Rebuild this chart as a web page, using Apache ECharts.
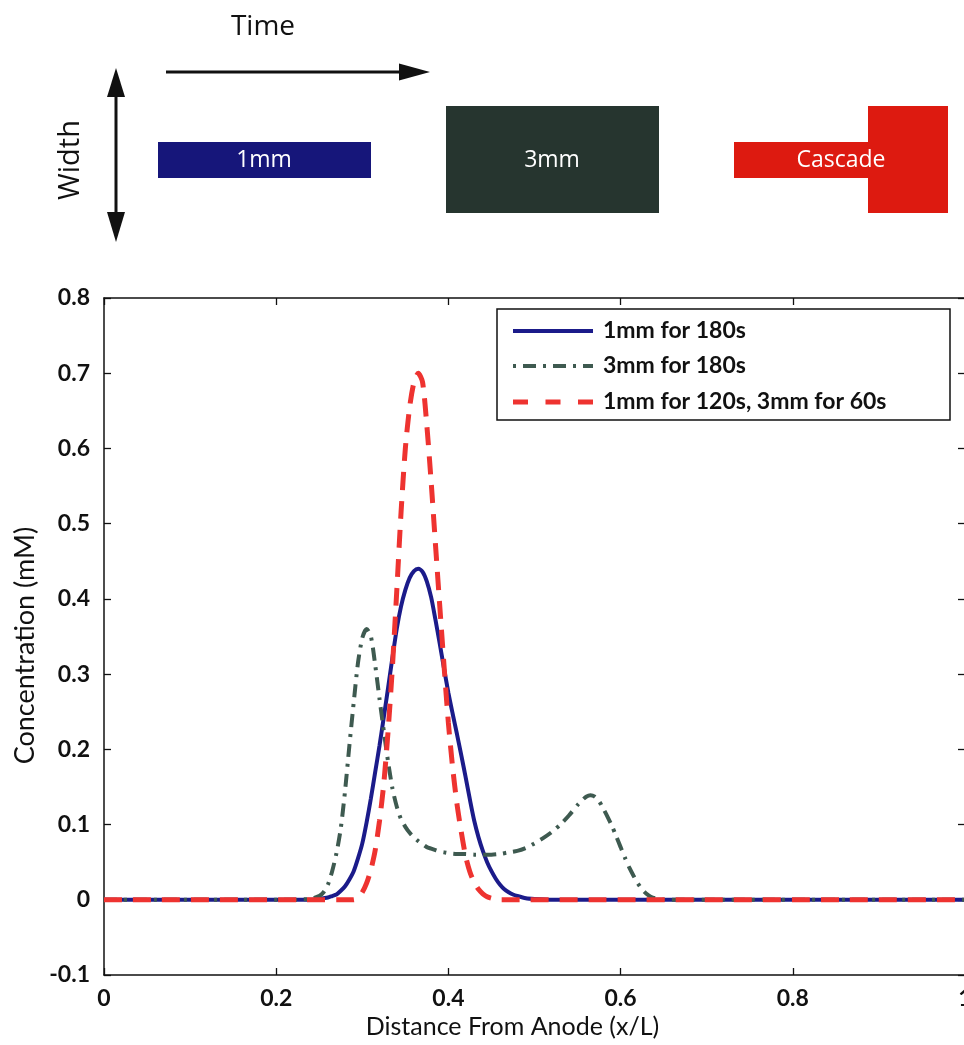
<!DOCTYPE html>
<html>
<head>
<meta charset="utf-8">
<script src="https://cdn.jsdelivr.net/npm/echarts@6/dist/echarts.min.js"></script>
<style>
html,body{margin:0;padding:0;background:#fff;}
#chart{width:964px;height:1045px;}
</style>
</head>
<body>
<div id="chart"></div>
<script>
// ---- data ----
const seriesNames = ['1mm for 180s', '3mm for 180s', '1mm for 120s, 3mm for 60s'];

const blueX = [0, 0.24, 0.245, 0.25, 0.255, 0.26, 0.265, 0.27, 0.275, 0.28, 0.285, 0.29, 0.295, 0.30, 0.305, 0.31, 0.315, 0.32, 0.325, 0.33, 0.335, 0.34, 0.345, 0.35, 0.355, 0.36, 0.365, 0.37, 0.375, 0.38, 0.385, 0.39, 0.395, 0.40, 0.405, 0.41, 0.415, 0.42, 0.425, 0.43, 0.435, 0.44, 0.445, 0.45, 0.455, 0.46, 0.465, 0.47, 0.475, 0.48, 0.49, 0.50, 0.52, 1];
const blueY = [0, 0, 0.0005, 0.001, 0.002, 0.003, 0.005, 0.007, 0.012, 0.018, 0.027, 0.038, 0.055, 0.075, 0.103, 0.135, 0.170, 0.205, 0.243, 0.282, 0.322, 0.360, 0.390, 0.412, 0.428, 0.437, 0.440, 0.436, 0.423, 0.402, 0.372, 0.340, 0.307, 0.275, 0.247, 0.220, 0.192, 0.163, 0.133, 0.105, 0.083, 0.065, 0.050, 0.038, 0.028, 0.020, 0.014, 0.010, 0.007, 0.005, 0.002, 0.001, 0, 0];

const greenX = [0, 0.22, 0.23, 0.24, 0.245, 0.25, 0.255, 0.26, 0.265, 0.27, 0.275, 0.28, 0.285, 0.29, 0.295, 0.30, 0.305, 0.31, 0.315, 0.32, 0.325, 0.33, 0.335, 0.34, 0.345, 0.35, 0.355, 0.36, 0.365, 0.37, 0.375, 0.38, 0.385, 0.39, 0.395, 0.40, 0.41, 0.42, 0.43, 0.44, 0.45, 0.46, 0.47, 0.48, 0.49, 0.50, 0.51, 0.52, 0.53, 0.54, 0.55, 0.555, 0.56, 0.565, 0.57, 0.575, 0.58, 0.585, 0.59, 0.595, 0.60, 0.605, 0.61, 0.615, 0.62, 0.625, 0.63, 0.635, 0.64, 0.65, 1];
const greenY = [0, 0, 0.0005, 0.001, 0.003, 0.005, 0.010, 0.020, 0.038, 0.062, 0.095, 0.145, 0.205, 0.262, 0.315, 0.348, 0.360, 0.350, 0.312, 0.267, 0.224, 0.183, 0.148, 0.124, 0.107, 0.097, 0.089, 0.083, 0.078, 0.074, 0.070, 0.068, 0.066, 0.064, 0.063, 0.062, 0.061, 0.061, 0.060, 0.060, 0.060, 0.061, 0.063, 0.065, 0.069, 0.075, 0.082, 0.090, 0.100, 0.112, 0.126, 0.132, 0.137, 0.139, 0.137, 0.131, 0.121, 0.110, 0.098, 0.084, 0.070, 0.056, 0.043, 0.032, 0.022, 0.014, 0.008, 0.004, 0.002, 0, 0];

const redX = [0, 0.29, 0.295, 0.30, 0.305, 0.31, 0.315, 0.32, 0.325, 0.33, 0.335, 0.34, 0.345, 0.35, 0.355, 0.36, 0.365, 0.37, 0.375, 0.38, 0.385, 0.39, 0.395, 0.40, 0.405, 0.41, 0.415, 0.42, 0.425, 0.43, 0.435, 0.44, 0.445, 0.45, 0.46, 1];
const redY = [0, 0, 0.003, 0.010, 0.022, 0.040, 0.066, 0.105, 0.155, 0.225, 0.310, 0.410, 0.515, 0.600, 0.655, 0.688, 0.700, 0.688, 0.630, 0.555, 0.472, 0.390, 0.310, 0.235, 0.175, 0.127, 0.090, 0.058, 0.037, 0.023, 0.014, 0.008, 0.004, 0.002, 0, 0];

const xTickStep = 0.2;
const yTickStep = 0.1;
const diagramLabels = ['1mm', '3mm', 'Cascade'];

function pairs(xs, ys) { return xs.map((x, i) => [x, ys[i]]); }

const FONT = 'Lato, "Open Sans", sans-serif';
const DFONT = '"Open Sans", Lato, sans-serif';
const INK = '#111';
const COLORS = ['#1b1b8a', '#3e5a50', '#ee3330'];
const DASHES = [null, [13, 7, 3, 7], [18, 11]];
const WIDTHS = [4, 4, 5];

const chart = echarts.init(document.getElementById('chart'), null, {renderer: 'canvas'});

const tickLabel = {fontFamily: FONT, fontSize: 23, fontWeight: 'bold', color: INK};
const fmt = v => String(+v.toFixed(1));
const axisCommon = {
  axisLine: {show: true, onZero: false, lineStyle: {color: INK, width: 1.5}},
  axisTick: {show: true, inside: true, length: 7, lineStyle: {color: INK, width: 1.3}},
  splitLine: {show: false}
};

const legendRows = [331, 366, 402];
const legendGraphics = [];
seriesNames.forEach((n, i) => {
  const ls = {stroke: COLORS[i], lineWidth: WIDTHS[i]};
  if (i === 1) { ls.lineDash = [13, 7, 3, 7]; ls.lineDashOffset = 20; }
  if (i === 2) { ls.lineDash = [15, 17.5]; }
  legendGraphics.push({type: 'line', z: 10, shape: {x1: 513, y1: legendRows[i], x2: 593, y2: legendRows[i]}, style: ls});
  legendGraphics.push({type: 'text', z: 10, x: 603, y: legendRows[i], style: {text: n, fontFamily: FONT, fontSize: 23, fontWeight: 'bold', fill: INK, align: 'left', verticalAlign: 'middle'}});
});

const option = {
  animation: false,
  backgroundColor: '#fff',
  grid: {left: 104, top: 298, width: 861, height: 677, containLabel: false, outerBoundsMode: 'none'},
  xAxis: [Object.assign({
    type: 'value', min: 0, max: 1, interval: xTickStep, position: 'bottom',
    axisLabel: Object.assign({margin: 12, formatter: fmt, showMaxLabel: true}, tickLabel),
    name: 'Distance From Anode (x/L)', nameLocation: 'middle', nameGap: 38,
    nameTextStyle: {fontFamily: FONT, fontSize: 25, color: INK, padding: [0, 44, 0, 0]}
  }, axisCommon), Object.assign({
    type: 'value', min: 0, max: 1, interval: xTickStep, position: 'top',
    axisLabel: {show: false}
  }, axisCommon)],
  yAxis: [Object.assign({
    type: 'value', min: -0.1, max: 0.8, interval: yTickStep, position: 'left',
    axisLabel: Object.assign({margin: 14, formatter: fmt}, tickLabel),
    name: 'Concentration (mM)', nameLocation: 'middle', nameGap: 65, nameRotate: 90,
    nameTextStyle: {fontFamily: FONT, fontSize: 27, color: INK, padding: [0, 18, 0, 0]}
  }, axisCommon), Object.assign({
    type: 'value', min: -0.1, max: 0.8, interval: yTickStep, position: 'right',
    axisLabel: {show: false}
  }, axisCommon)],
  series: seriesNames.map((n, i) => ({
    name: n, type: 'line', symbol: 'none', smooth: 0.25, z: 2 + i,
    lineStyle: {color: COLORS[i], width: WIDTHS[i], type: DASHES[i] || 'solid'},
    itemStyle: {color: COLORS[i]},
    data: [pairs(blueX, blueY), pairs(greenX, greenY), pairs(redX, redY)][i]
  })),
  graphic: [
    // legend box
    {type: 'rect', z: 9, shape: {x: 497, y: 309, width: 453, height: 111}, style: {fill: '#fff', stroke: INK, lineWidth: 1.5}},
    ...legendGraphics,
    // Time label and arrow
    {type: 'text', x: 263, y: 27, style: {text: 'Time', fontFamily: DFONT, fontSize: 28, fill: INK, align: 'center', verticalAlign: 'middle'}},
    {type: 'line', shape: {x1: 166, y1: 72, x2: 402, y2: 72}, style: {stroke: INK, lineWidth: 3}},
    {type: 'polygon', shape: {points: [[399, 63.5], [430, 72], [399, 80.5]]}, style: {fill: INK}},
    // Width label and double arrow
    {type: 'text', x: 71, y: 160, rotation: Math.PI / 2, style: {text: 'Width', fontFamily: DFONT, fontSize: 29, fill: INK, align: 'center', verticalAlign: 'middle'}},
    {type: 'line', shape: {x1: 116, y1: 92, x2: 116, y2: 218}, style: {stroke: INK, lineWidth: 3}},
    {type: 'polygon', shape: {points: [[107, 97], [116, 68], [125, 97]]}, style: {fill: INK}},
    {type: 'polygon', shape: {points: [[107, 212], [116, 242], [125, 212]]}, style: {fill: INK}},
    // 1mm
    {type: 'rect', shape: {x: 158, y: 142, width: 213, height: 36}, style: {fill: '#16167a'}},
    {type: 'text', x: 264, y: 160, style: {text: diagramLabels[0], fontFamily: DFONT, fontSize: 23, fill: '#fff', align: 'center', verticalAlign: 'middle'}},
    // 3mm
    {type: 'rect', shape: {x: 446, y: 106, width: 213, height: 107}, style: {fill: '#26352f'}},
    {type: 'text', x: 552, y: 160, style: {text: diagramLabels[1], fontFamily: DFONT, fontSize: 23, fill: '#fff', align: 'center', verticalAlign: 'middle'}},
    // Cascade
    {type: 'rect', shape: {x: 734, y: 142, width: 136, height: 36}, style: {fill: '#dd1a10'}},
    {type: 'rect', shape: {x: 868, y: 106, width: 80, height: 107}, style: {fill: '#dd1a10'}},
    {type: 'text', x: 841, y: 160, style: {text: diagramLabels[2], fontFamily: DFONT, fontSize: 23, fill: '#fff', align: 'center', verticalAlign: 'middle'}}
  ]
};
chart.setOption(option);
</script>
</body>
</html>
